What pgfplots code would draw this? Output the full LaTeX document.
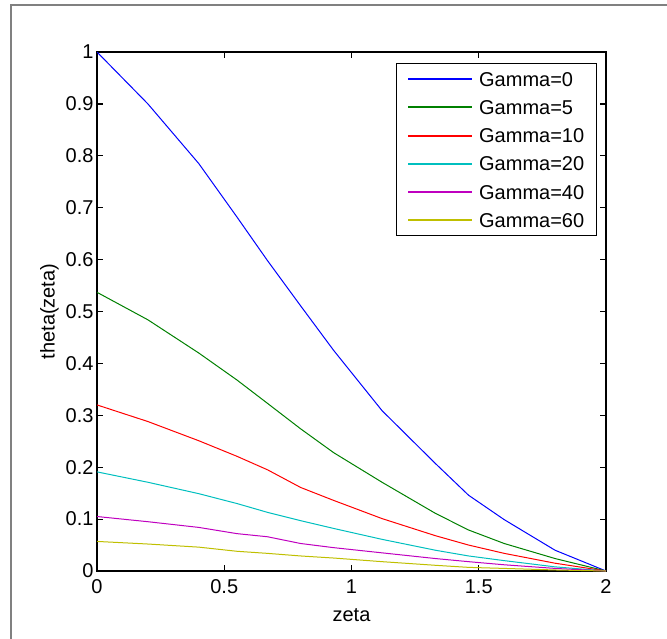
\documentclass[border=0pt]{standalone}
\usepackage{fontspec}
\setmainfont{Liberation Sans}
\usepackage{pgfplots}
\pgfplotsset{compat=1.18}
\definecolor{mgreen}{rgb}{0,0.5,0}
\definecolor{mcyan}{rgb}{0,0.75,0.75}
\definecolor{mmag}{rgb}{0.75,0,0.75}
\definecolor{myel}{rgb}{0.75,0.75,0}
\definecolor{framegray}{rgb}{0.5,0.5,0.5}

\pgfplotstableread{
z     g0     g5     g10    g20    g40    g60
0     1.000  0.537  0.320  0.191  0.105  0.057
0.2   0.900  0.484  0.288  0.171  0.095  0.052
0.4   0.785  0.420  0.251  0.149  0.084  0.046
0.55  0.682  0.368  0.221  0.130  0.072  0.038
0.67  0.598  0.323  0.195  0.113  0.066  0.034
0.8   0.511  0.274  0.161  0.097  0.053  0.029
0.93  0.425  0.228  0.136  0.082  0.045  0.025
1.12  0.309  0.171  0.101  0.061  0.035  0.018
1.33  0.207  0.111  0.068  0.040  0.024  0.011
1.46  0.146  0.079  0.050  0.029  0.018  0.007
1.6   0.099  0.053  0.034  0.020  0.012  0.005
1.8   0.040  0.024  0.015  0.008  0.005  0.002
2     0.000  0.000  0.000  0.000  0.000  0.000
}\datatable

\pgfplotsset{
  limg/.style={legend image code/.code={\fill[color=#1] (0pt,-0.5pt) rectangle (63pt,0.5pt);}},
}

\begin{document}
\begin{tikzpicture}[font=\fontsize{20}{24}\selectfont]
\path[use as bounding box] (0pt,0pt) rectangle (667pt,-638pt);
\draw[framegray, line width=2pt] (11pt,-640pt) -- (11pt,-5pt) -- (669pt,-5pt);
\begin{axis}[
  at={(97pt,-571pt)}, anchor=south west,
  scale only axis, width=509pt, height=519pt,
  xmin=0, xmax=2, ymin=0, ymax=1,
  xtick={0,0.5,1,1.5,2},
  ytick={0,0.1,0.2,0.3,0.4,0.5,0.6,0.7,0.8,0.9,1},
  tick align=inside, tick pos=both,
  major tick length=6pt,
  every tick/.style={black, line width=1.2pt},
  axis line style={black, line width=1.5pt},
  /pgf/number format/assume math mode=true,
  ticklabel style={font=\fontsize{20}{24}\selectfont},
  xticklabel style={yshift=-5pt},
  xlabel={zeta}, ylabel={theta(zeta)},
  label style={font=\fontsize{20}{24}\selectfont},
  xlabel style={yshift=-8pt},
  legend style={at={(rel axis cs:0.982,0.979)}, anchor=north east,
    draw=black, line width=1.2pt, inner xsep=12pt, inner ysep=8.5pt,
    row sep=13.9pt, column sep=7pt,
    nodes={inner sep=0pt, text height=14.3pt, text depth=0pt},
    font=\fontsize{20}{24}\selectfont},
  legend cell align=left,
]
\addplot[color=blue, line width=1pt, limg=blue] table[x=z,y=g0] {\datatable};
\addlegendentry{Gamma=0}
\addplot[color=mgreen, line width=1pt, limg=mgreen] table[x=z,y=g5] {\datatable};
\addlegendentry{Gamma=5}
\addplot[color=red, line width=1pt, limg=red] table[x=z,y=g10] {\datatable};
\addlegendentry{Gamma=10}
\addplot[color=mcyan, line width=1pt, limg=mcyan] table[x=z,y=g20] {\datatable};
\addlegendentry{Gamma=20}
\addplot[color=mmag, line width=1pt, limg=mmag] table[x=z,y=g40] {\datatable};
\addlegendentry{Gamma=40}
\addplot[color=myel, line width=1pt, limg=myel] table[x=z,y=g60] {\datatable};
\addlegendentry{Gamma=60}
\end{axis}
\end{tikzpicture}
\end{document}
